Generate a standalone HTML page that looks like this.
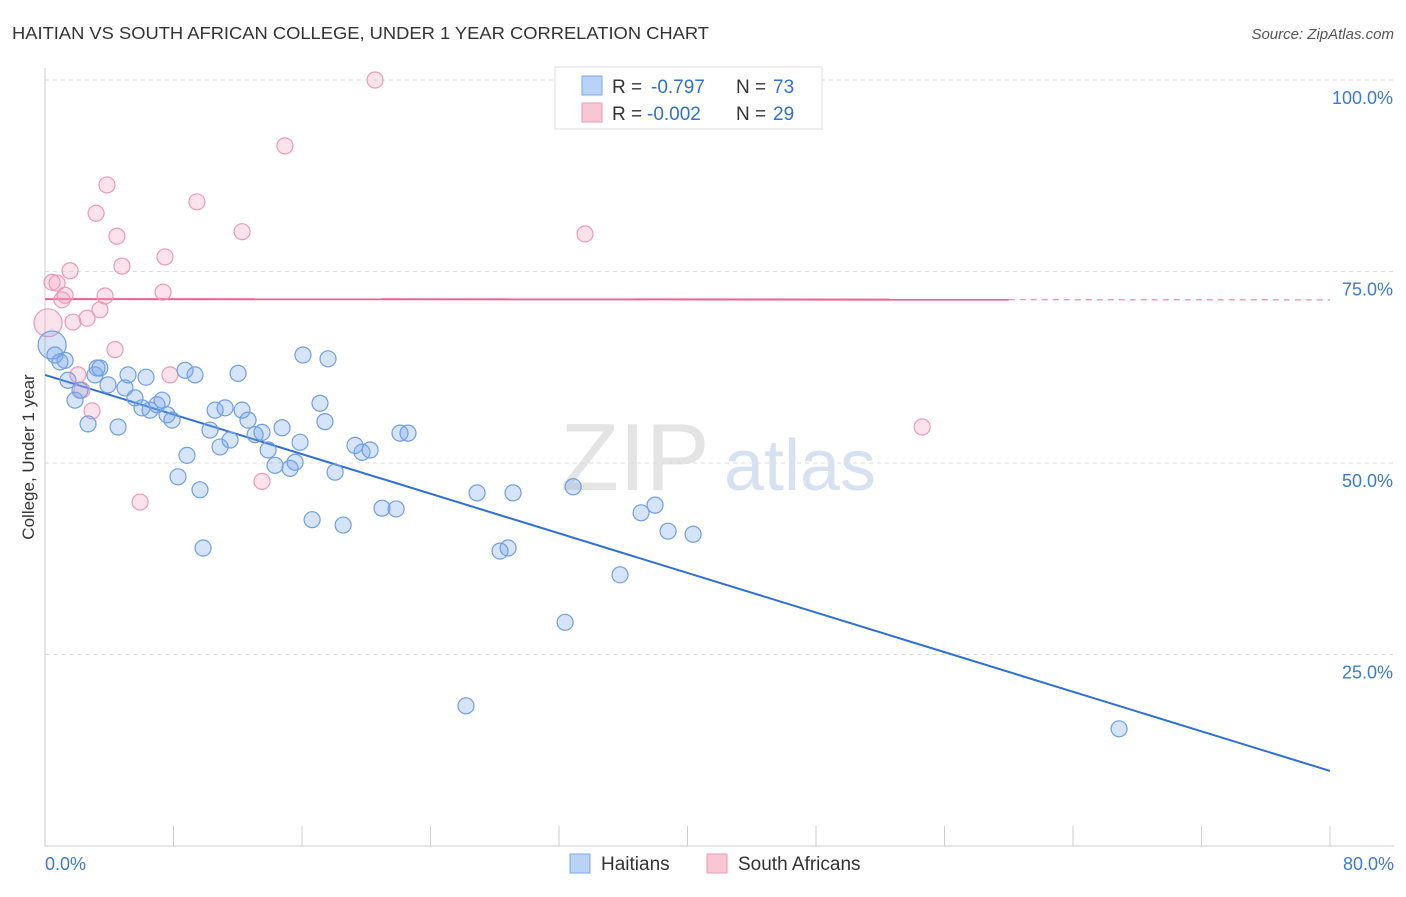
<!DOCTYPE html>
<html><head><meta charset="utf-8"><style>
body{margin:0;background:#fff;font-family:"Liberation Sans",sans-serif;}
svg text{font-family:"Liberation Sans",sans-serif;}
</style></head><body>
<svg id="chart" width="1406" height="892" viewBox="0 0 1406 892">
<text x="12" y="39" font-size="17.5" fill="#333" textLength="697" lengthAdjust="spacingAndGlyphs">HAITIAN VS SOUTH AFRICAN COLLEGE, UNDER 1 YEAR CORRELATION CHART</text>
<text x="1394" y="39" font-size="15" fill="#555" text-anchor="end" font-style="italic">Source: ZipAtlas.com</text>
<text transform="translate(34,457) rotate(-90)" font-size="17" fill="#333" text-anchor="middle">College, Under 1 year</text>
<g><text x="635" y="490" font-size="96" fill="#e4e4e4" font-family="Liberation Serif" text-anchor="middle">ZIP</text><text x="800" y="490" font-size="72" fill="#d6e2f2" text-anchor="middle">atlas</text></g>
<g id="grid"></g><g id="axes"></g><g id="trends"></g><g id="pts"></g>
<g>
<rect x="555" y="67" width="267" height="62" fill="#fff" stroke="#ddd"/>
<rect x="582" y="76" width="20" height="19" fill="#b8d3f5" stroke="#7aa8e6"/>
<rect x="582" y="103" width="20" height="19" fill="#f9c6d6" stroke="#eb9ab5"/>
<text x="612" y="93" font-size="19" fill="#333">R =</text>
<text x="651" y="93" font-size="19" fill="#2f6fd6">-0.797</text>
<text x="736" y="93" font-size="19" fill="#333">N =</text>
<text x="773" y="93" font-size="19" fill="#2f6fd6">73</text>
<text x="612" y="120" font-size="19" fill="#333">R =</text>
<text x="647" y="120" font-size="19" fill="#2f6fd6">-0.002</text>
<text x="736" y="120" font-size="19" fill="#333">N =</text>
<text x="773" y="120" font-size="19" fill="#2f6fd6">29</text>
</g>
<g>
<rect x="570" y="854" width="20" height="19" fill="#b8d3f5" stroke="#7aa8e6"/>
<text x="601" y="870" font-size="19" fill="#333">Haitians</text>
<rect x="707" y="854" width="20" height="19" fill="#f9c6d6" stroke="#eb9ab5"/>
<text x="738" y="870" font-size="19" fill="#333">South Africans</text>
</g>
</svg>
<script>
const yTicks=[100,75,50,25];
const yTickLabels=["100.0%","75.0%","50.0%","25.0%"];
const xTickLabels=["0.0%","80.0%"];
const haitianX=[0.44,0.62,0.93,1.25,1.43,1.87,2.18,2.68,3.11,3.24,3.42,3.92,4.55,4.98,5.17,5.60,6.04,6.29,6.54,6.97,7.29,7.60,7.91,8.28,8.72,8.84,9.34,9.65,9.84,10.27,10.59,10.90,11.21,11.52,12.02,12.27,12.64,13.08,13.51,13.89,14.32,14.76,15.26,15.57,15.88,16.06,16.63,17.12,17.43,17.62,18.06,18.56,19.30,19.74,20.24,20.98,21.86,22.10,22.60,26.21,26.90,28.33,28.83,29.14,32.38,32.88,35.80,37.11,37.98,38.79,40.35,66.87];
const haitianY=[65.4,64.1,63.2,63.4,60.8,58.2,59.5,55.1,61.5,62.4,62.4,60.2,54.7,59.8,61.5,58.5,57.2,61.2,56.9,57.6,58.2,56.3,55.6,48.2,62.1,51.0,61.5,46.5,38.9,54.3,56.9,52.1,57.2,53.0,61.7,56.9,55.6,53.7,54.0,51.7,49.7,54.6,49.3,50.1,52.7,64.1,42.6,57.8,55.4,63.6,48.8,41.9,52.3,51.4,51.7,44.1,44.0,53.9,53.9,18.3,46.1,38.5,38.9,46.1,29.2,46.9,35.4,43.5,44.5,41.1,40.7,15.3];
const safX=[0.19,0.44,0.75,1.06,1.25,1.56,1.74,2.05,2.30,2.62,2.93,3.18,3.42,3.74,3.86,4.36,4.48,4.79,5.92,7.35,7.47,7.78,9.46,12.27,13.51,14.94,20.55,33.62,54.61];
const safY=[68.3,73.6,73.5,71.3,71.9,75.1,68.4,61.5,59.5,68.9,56.8,82.6,70.0,71.8,86.3,64.8,79.6,75.7,44.9,72.3,76.9,61.5,84.1,80.2,47.6,91.4,100.0,79.9,54.7];
const haitianTrend=[61.5,9.8];
const safTrend=[71.4,71.3];
const NS="http://www.w3.org/2000/svg";
const X=v=>45+v*(1285/80), Y=v=>846-v*7.66;
function mk(p,t,a){const e=document.createElementNS(NS,t);for(const k in a)e.setAttribute(k,a[k]);p.appendChild(e);return e;}
const grid=document.getElementById('grid'),axes=document.getElementById('axes'),tr=document.getElementById('trends'),pts=document.getElementById('pts');
yTicks.forEach((v,i)=>{
 const l=mk(grid,'line',{x1:45,x2:1394,y1:Y(v),y2:Y(v),stroke:'#ddd','stroke-dasharray':'4,4'});
 
 
 const t=mk(grid,'text',{x:1393,y:Y(v)+24,'font-size':18,fill:'#3b78d8','text-anchor':'end'});
 t.textContent=yTickLabels[i];
 
 
});
const ax=mk(axes,'path',{d:`M45 68V${Y(0)}H1394`,stroke:'#ccc',fill:'none'});


for(let i=0;i<=10;i++){
 const tk=mk(axes,'line',{x1:X(i*8),x2:X(i*8),y1:826,y2:846,stroke:'#ccc'});
 
 
}
[[0,'start',45],[80,'end',1394]].forEach((d,i)=>{
 const t=mk(axes,'text',{x:d[2],y:870,'font-size':18,fill:'#3b78d8','text-anchor':d[1]});
 t.textContent=xTickLabels[i];
 
 
});
const bt=mk(tr,'line',{x1:X(0),y1:Y(haitianTrend[0]),x2:X(80),y2:Y(haitianTrend[1]),stroke:'#2f6fd6','stroke-width':2});


const pm=v=>safTrend[0]+(safTrend[1]-safTrend[0])*v/80;
const ps=mk(tr,'line',{x1:X(0),y1:Y(pm(0)),x2:X(60),y2:Y(pm(60)),stroke:'#e8638e','stroke-width':2});


const pd=mk(tr,'line',{x1:X(60),y1:Y(pm(60)),x2:X(80),y2:Y(pm(80)),stroke:'#e8a0b8','stroke-width':1.5,'stroke-dasharray':'6,5'});


safX.forEach((v,i)=>{
 const c=mk(pts,'circle',{cx:X(v),cy:Y(safY[i]),r:i==0?14:8,fill:'rgba(244,160,188,0.3)',stroke:'#ec9ab6','stroke-width':1.2});
 
 
});
haitianX.forEach((v,i)=>{
 const c=mk(pts,'circle',{cx:X(v),cy:Y(haitianY[i]),r:i==0?14:8,fill:'rgba(120,165,235,0.3)',stroke:'#6f9fe3','stroke-width':1.2});
 
 
});
</script>
</body></html>
